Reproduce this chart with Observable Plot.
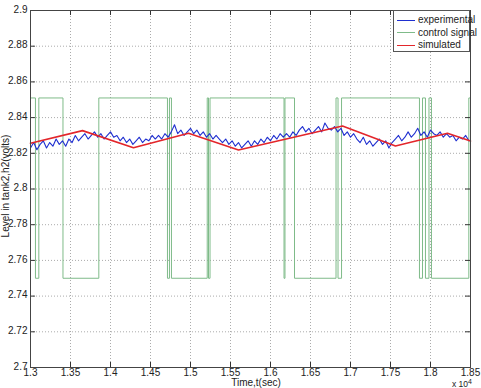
<!DOCTYPE html>
<html>
<head>
<meta charset="utf-8">
<script src="https://cdn.jsdelivr.net/npm/d3@7"></script>
<script src="https://cdn.jsdelivr.net/npm/@observablehq/plot@0.6"></script>
<style>
  html, body { margin: 0; padding: 0; background: #fff; }
  #wrap { position: relative; width: 481px; height: 388px; overflow: hidden; font-family: "Liberation Sans", Arial, sans-serif; color: #222; }
  .lbl { position: absolute; font-size: 10px; white-space: nowrap; line-height: 1; }
  #legend { position: absolute; left: 393px; top: 10px; width: 77px; height: 42px; border: 1px solid #555; background: #fff; box-sizing: border-box; font-size: 10px; }
  #legend .row { position: absolute; left: 3px; height: 12px; line-height: 12px; white-space: nowrap; }
  #legend .sw { display: inline-block; width: 18px; height: 0; vertical-align: middle; margin-right: 3px; }
</style>
</head>
<body>
<div id="wrap"></div>
<script>
// ---- data (time in seconds; axis shows ×10^4) ----
const xTicks = [13000, 13500, 14000, 14500, 15000, 15500, 16000, 16500, 17000, 17500, 18000, 18500];
const yTicks = [2.7, 2.72, 2.74, 2.76, 2.78, 2.8, 2.82, 2.84, 2.86, 2.88, 2.9];

const controlTimes  = [13000, 13062, 13104, 13406, 13854, 14712, 14737, 14762, 15209, 15225, 15244, 16169, 16181, 16300, 16819, 16844, 16888, 17862, 17900, 17937, 17981, 18012, 18479, 18500];
const controlLevels = [2.851, 2.75, 2.851, 2.75, 2.851, 2.75, 2.851, 2.75, 2.851, 2.75, 2.851, 2.75, 2.851, 2.75, 2.851, 2.75, 2.851, 2.75, 2.851, 2.75, 2.851, 2.75, 2.851, 2.851];

const simTimes  = [13000, 13650, 14287, 14975, 15600, 16900, 17562, 18212, 18500];
const simValues = [2.8256, 2.8327, 2.8231, 2.8312, 2.8219, 2.8353, 2.8241, 2.8312, 2.8269];

const expStart = 13000, expStep = 40;
const expValues = [
  2.823, 2.826, 2.822, 2.825, 2.827, 2.823, 2.826, 2.824, 2.828, 2.825,
  2.827, 2.824, 2.828, 2.826, 2.830, 2.827, 2.829, 2.831, 2.828, 2.830,
  2.832, 2.829, 2.831, 2.828, 2.830, 2.832, 2.829, 2.830, 2.827, 2.829,
  2.826, 2.828, 2.825, 2.827, 2.829, 2.826, 2.828, 2.827, 2.830, 2.828,
  2.830, 2.828, 2.831, 2.829, 2.832, 2.836, 2.831, 2.833, 2.830, 2.832,
  2.834, 2.831, 2.833, 2.830, 2.832, 2.829, 2.831, 2.828, 2.830, 2.828,
  2.826, 2.828, 2.825, 2.827, 2.824, 2.826, 2.823, 2.825, 2.827, 2.824,
  2.827, 2.825, 2.828, 2.826, 2.829, 2.827, 2.830, 2.828, 2.831, 2.829,
  2.831, 2.829, 2.832, 2.830, 2.833, 2.835, 2.832, 2.834, 2.831, 2.833,
  2.835, 2.832, 2.837, 2.834, 2.833, 2.835, 2.832, 2.834, 2.830, 2.832,
  2.829, 2.831, 2.828, 2.826, 2.829, 2.825, 2.827, 2.824, 2.826, 2.828,
  2.825, 2.827, 2.823, 2.826, 2.828, 2.830, 2.827, 2.829, 2.832, 2.829,
  2.831, 2.834, 2.830, 2.832, 2.829, 2.833, 2.831, 2.830, 2.832, 2.829,
  2.831, 2.829, 2.830, 2.827, 2.829, 2.828, 2.830, 2.827
];

// ---- build tables ----
const control = controlTimes.map((t, i) => ({t, v: controlLevels[i]}));
const sim = simTimes.map((t, i) => ({t, v: simValues[i]}));
const exp = expValues.map((v, i) => ({t: expStart + i * expStep, v}));

const GREEN = "#7fbb89", BLUE = "#1f2fd0", RED = "#e3262b";
const tickLenY = 0.0028, tickLenX = 62;

const chart = Plot.plot({
  width: 481,
  height: 388,
  marginLeft: 30,
  marginRight: 11,
  marginTop: 10,
  marginBottom: 21,
  x: {domain: [13000, 18500]},
  y: {domain: [2.7, 2.9]},
  style: {fontFamily: "'Liberation Sans', Arial, sans-serif", fontSize: "10px", background: "#fff", color: "#222", overflow: "visible"},
  marks: [
    Plot.gridX(xTicks, {stroke: "#888", strokeOpacity: 0.7, strokeDasharray: "1,2"}),
    Plot.gridY(yTicks, {stroke: "#888", strokeOpacity: 0.7, strokeDasharray: "1,2"}),
    Plot.line(control, {x: "t", y: "v", curve: "step-after", stroke: GREEN, strokeWidth: 1}),
    Plot.line(exp, {x: "t", y: "v", stroke: BLUE, strokeWidth: 1.1}),
    Plot.line(sim, {x: "t", y: "v", stroke: RED, strokeWidth: 1.6}),
    Plot.ruleX(xTicks, {y1: 2.7, y2: 2.7 + tickLenY, stroke: "#333"}),
    Plot.ruleX(xTicks, {y1: 2.9, y2: 2.9 - tickLenY, stroke: "#333"}),
    Plot.ruleY(yTicks, {x1: 13000, x2: 13000 + tickLenX, stroke: "#333"}),
    Plot.ruleY(yTicks, {x1: 18500, x2: 18500 - tickLenX, stroke: "#333"}),
    Plot.frame({stroke: "#444"}),
    Plot.axisX(xTicks, {tickSize: 0, tickPadding: 1.5, label: null, fontSize: 10, tickFormat: d => String(+(d / 1e4).toFixed(2))}),
    Plot.axisY(yTicks, {tickSize: 0, tickPadding: 3, label: null, fontSize: 10, dy: -1, tickFormat: d => String(+d.toFixed(2))})
  ]
});

const wrap = document.getElementById("wrap");
wrap.appendChild(chart);

function addLabel(html, css) {
  const d = document.createElement("div");
  d.className = "lbl";
  d.innerHTML = html;
  Object.assign(d.style, css);
  wrap.appendChild(d);
  return d;
}
addLabel("Time,t(sec)", {left: "256px", top: "378px", transform: "translateX(-50%)"});
addLabel("x 10<sup style='font-size:7px;vertical-align:3px'>4</sup>", {left: "452px", top: "378px", fontSize: "8.5px"});
addLabel("Level in tank2,h2(volts)", {left: "6px", top: "186px", transform: "translate(-50%,-50%) rotate(-90deg)"});

// legend
const legend = document.createElement("div");
legend.id = "legend";
const items = [["experimental", BLUE, 1], ["control signal", GREEN, 1], ["simulated", RED, 1.6]];
items.forEach(([name, color, w], i) => {
  const row = document.createElement("div");
  row.className = "row";
  row.style.top = (3 + i * 12.5) + "px";
  row.innerHTML = `<span class="sw" style="border-top:${w}px solid ${color}"></span>${name}`;
  legend.appendChild(row);
});
wrap.appendChild(legend);
</script>
</body>
</html>
